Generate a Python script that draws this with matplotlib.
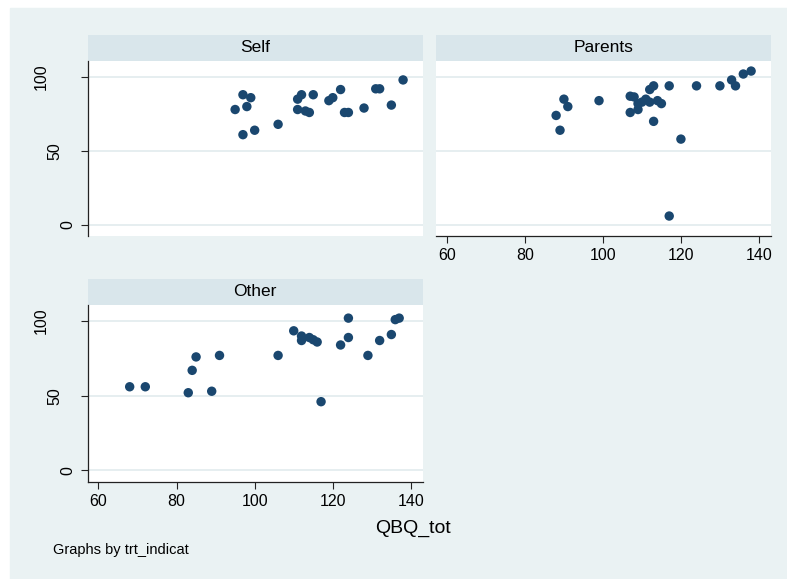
import numpy as np
import matplotlib
matplotlib.use('Agg')
import matplotlib.pyplot as plt
from matplotlib.patches import Rectangle
import matplotlib.transforms as mtransforms

plt.rcParams['font.family'] = ['Liberation Sans', 'DejaVu Sans']

# data (QBQ_tot vs score, by trt_indicat)
self_x = [95, 97, 99, 98, 97, 100, 106, 111, 111, 112, 115, 113, 114, 119, 120,
          122, 123, 124, 128, 131, 132, 135, 138]
self_y = [78, 88, 86, 80, 61, 64, 68, 78, 85, 88, 88, 77, 76, 84, 86,
          91.5, 76, 76, 79, 92, 92, 81, 98]

parents_x = [88, 89, 90, 91, 99, 107, 107, 108, 109, 109, 110, 111, 112, 112,
             113, 113, 114, 115, 117, 120, 117, 124, 130, 133, 134, 136, 138]
parents_y = [74, 64, 85, 80, 84, 87, 76, 86.5, 82, 78, 83, 85, 83, 91.5,
             94, 70, 84, 82, 94, 58, 6, 94, 94, 98, 94, 102, 104]

other_x = [68, 72, 83, 84, 85, 89, 91, 106, 110, 112, 112, 114, 115, 116, 117,
           122, 124, 124, 129, 132, 135, 136, 137]
other_y = [56, 56, 52, 67, 76, 53, 77, 77, 93.5, 90, 87, 89, 87.5, 86, 46,
           84, 102, 89, 77, 87, 91, 101, 102]

panel_names = ['Self', 'Parents', 'Other']
x_ticks = [60, 80, 100, 120, 140]
y_ticks = [0, 50, 100]

W, H = 787, 579
BG = '#eaf2f3'
STRIP = '#d9e6eb'
NAVY = '#1a476f'
GRID = '#e6eef0'


def frac(left, top, right, bottom):
    # pixel box -> figure fraction rect
    return [left / W, (H - bottom) / H, (right - left) / W, (bottom - top) / H]


def add_panel(fig, box, name, xs, ys, show_x, show_y):
    left, top, right, bottom = box
    strip = fig.add_axes(frac(left, top - 26, right, top))
    strip.set_facecolor(STRIP)
    strip.set_xticks([])
    strip.set_yticks([])
    for s in strip.spines.values():
        s.set_visible(False)
    strip.text(0.5, 0.5, name, ha='center', va='center', fontsize=12.5,
               transform=strip.transAxes)

    ax = fig.add_axes(frac(left, top, right, bottom))
    ax.set_facecolor('white')
    ax.set_xlim(57.2, 143.1)
    ax.set_ylim(-7.5, 110.8)
    for yv in y_ticks:
        ax.axhline(yv, color=GRID, lw=1.4, zorder=1)
    ax.scatter(xs, ys, s=46, color=NAVY, edgecolors='none', zorder=3)

    ax.spines['top'].set_visible(False)
    ax.spines['right'].set_visible(False)
    ax.spines['left'].set_visible(show_y)
    ax.spines['bottom'].set_visible(show_x)
    for s in ('left', 'bottom'):
        ax.spines[s].set_color('#222222')
        ax.spines[s].set_linewidth(0.9)

    if show_x:
        ax.set_xticks(x_ticks)
        ax.tick_params(axis='x', length=5, width=0.8, pad=4, labelsize=11.5,
                       color='#222222')
    else:
        ax.set_xticks([])

    if show_y:
        ax.set_yticks(y_ticks)
        ax.set_yticklabels([])
        ax.tick_params(axis='y', length=5, width=0.8, color='#222222')
        for yv in y_ticks:
            n = len(str(yv))
            off = mtransforms.ScaledTranslation(-(14 + 9.7 * (n - 1)) / 72, 0,
                                                fig.dpi_scale_trans)
            trans = mtransforms.blended_transform_factory(ax.transAxes,
                                                          ax.transData) + off
            ax.text(0, yv, str(yv), rotation=90, ha='center', va='center',
                    fontsize=11.5, transform=trans)
    else:
        ax.set_yticks([])
    return ax


fig = plt.figure(figsize=(W / 100, H / 100), dpi=100)
fig.patches.append(Rectangle((10 / W, 0), 1 - 10 / W, (H - 8) / H,
                             transform=fig.transFigure, color=BG, zorder=-10))

add_panel(fig, (87.5, 61, 423, 236), panel_names[0], self_x, self_y,
          show_x=False, show_y=True)
add_panel(fig, (436, 61, 771, 236), panel_names[1], parents_x, parents_y,
          show_x=True, show_y=False)
add_panel(fig, (87.5, 305, 423, 481.5), panel_names[2], other_x, other_y,
          show_x=True, show_y=True)

fig.text(413.5 / W, (H - 528) / H, 'QBQ_tot', ha='center', va='center',
         fontsize=14)
fig.text(53 / W, (H - 550) / H, 'Graphs by trt_indicat', ha='left',
         va='center', fontsize=10.5)

fig.savefig('out.png', dpi=100, facecolor='white')
